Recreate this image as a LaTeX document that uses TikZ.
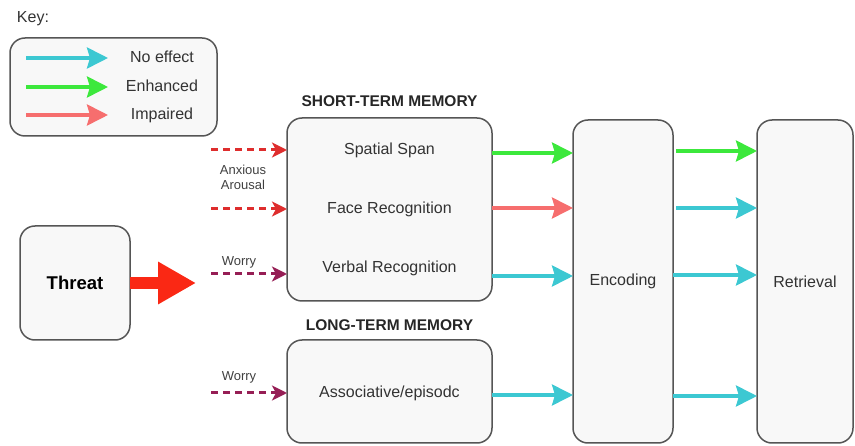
\documentclass[tikz,border=0pt]{standalone}
\usepackage{fontspec}
\setmainfont{Liberation Sans}
\usetikzlibrary{arrows.meta}

\definecolor{diagcolor0000}{RGB}{248,248,248}
\definecolor{diagcolor0001}{RGB}{85,85,85}
\definecolor{diagcolor0002}{RGB}{60,200,210}
\definecolor{diagcolor0003}{RGB}{60,232,60}
\definecolor{diagcolor0004}{RGB}{246,110,110}
\definecolor{diagcolor0005}{RGB}{222,45,45}
\definecolor{diagcolor0006}{RGB}{150,30,85}
\definecolor{diagcolor0007}{RGB}{250,40,20}

\begin{document}
\begin{tikzpicture}[
  yscale = -1,
  dstyle0/.style = {draw=diagcolor0001,fill=diagcolor0000,line width=1.5pt,rounded corners=15pt,inner sep=0pt,outer sep=0pt},
  dstyle1/.style = {line width=3.5pt,-{Stealth[length=21pt,width=21pt,inset=3pt]}},
  dstyle2/.style = {line width=3pt,dash pattern=on 7pt off 5pt,-{Stealth[length=15pt,width=15pt,inset=4pt]}},
  dstyle3/.style = {font=\fontsize{16}{18}\selectfont,text=black!80},
  dstyle4/.style = {font=\fontsize{15.5}{18}\bfseries\selectfont,text=black!85},
  dstyle5/.style = {font=\fontsize{13}{15}\selectfont,text=black!75,align=center},
]
  \useasboundingbox (0pt,0pt) rectangle (855pt,446pt);
  % key
  \node at (33pt,19pt)[dstyle3] (keytitle) {Key:};
  \node at (113.5pt,87pt)[dstyle0,minimum width=207pt,minimum height=98pt] (keybox) {};
  \coordinate (k0s) at (26pt,58pt);  \coordinate (k0e) at (108pt,58pt);
  \coordinate (k1s) at (26pt,87pt);  \coordinate (k1e) at (108pt,87pt);
  \coordinate (k2s) at (26pt,115pt); \coordinate (k2e) at (108pt,115pt);
  \draw[dstyle1,diagcolor0002] (k0s) -- (k0e);
  \draw[dstyle1,diagcolor0003] (k1s) -- (k1e);
  \draw[dstyle1,diagcolor0004] (k2s) -- (k2e);
  \node at (162pt,57pt)[dstyle3] (k0) {No effect};
  \node at (162pt,86pt)[dstyle3] (k1) {Enhanced};
  \node at (162pt,115pt)[dstyle3] (k2) {Impaired};
  % boxes
  \node at (75pt,283pt)[dstyle0,minimum width=110pt,minimum height=114pt,font=\fontsize{18.5}{20}\bfseries\selectfont] (threat) {Threat};
  \node at (389.5pt,209.5pt)[dstyle0,minimum width=205pt,minimum height=183pt] (stm) {};
  \node at (389.5pt,391.5pt)[dstyle0,minimum width=205pt,minimum height=103pt] (ltm) {};
  \node at (623pt,281.5pt)[dstyle0,minimum width=100pt,minimum height=323pt,dstyle3] (enc) {Encoding};
  \node at (805pt,281.5pt)[dstyle0,minimum width=96pt,minimum height=323pt,dstyle3] (ret) {Retrieval};
  \node at (389.5pt,101pt)[dstyle4] (stmtitle) {SHORT-TERM MEMORY};
  \node at (389.5pt,325pt)[dstyle4] (ltmtitle) {LONG-TERM MEMORY};
  \node at (389.5pt,150pt)[dstyle3] (spatial) {Spatial Span};
  \node at (389.5pt,209pt)[dstyle3] (face) {Face Recognition};
  \node at (389.5pt,268pt)[dstyle3] (verbal) {Verbal Recognition};
  \node at (389.5pt,393pt)[dstyle3] (assoc) {Associative/episodc};
  % threat arrow
  \coordinate (tend) at (196pt,283pt);
  \draw[diagcolor0007,line width=12pt,-{Triangle[length=38pt,width=40pt]}] (threat.east) -- (tend);
  % dashed inputs
  \coordinate (d0) at (211pt,150pt);
  \coordinate (d1) at (211pt,209pt);
  \coordinate (d2) at (211pt,274pt);
  \coordinate (d3) at (211pt,393pt);
  \draw[dstyle2,diagcolor0005] (d0) -- (d0 -| stm.west);
  \draw[dstyle2,diagcolor0005] (d1) -- (d1 -| stm.west);
  \draw[dstyle2,diagcolor0006] (d2) -- (d2 -| stm.west);
  \draw[dstyle2,diagcolor0006] (d3) -- (d3 -| ltm.west);
  \node at (243pt,177pt)[dstyle5] (arousal) {Anxious\\Arousal};
  \node at (239pt,262pt)[dstyle5] (worry0) {Worry};
  \node at (239pt,377pt)[dstyle5] (worry1) {Worry};
  % memory to encoding
  \coordinate (s0) at (492pt,153pt);
  \coordinate (s1) at (492pt,208pt);
  \coordinate (s2) at (492pt,276pt);
  \coordinate (s3) at (492pt,395pt);
  \draw[dstyle1,diagcolor0003] (s0 -| stm.east) -- (s0 -| enc.west);
  \draw[dstyle1,diagcolor0004] (s1 -| stm.east) -- (s1 -| enc.west);
  \draw[dstyle1,diagcolor0002] (s2 -| stm.east) -- (s2 -| enc.west);
  \draw[dstyle1,diagcolor0002] (s3 -| ltm.east) -- (s3 -| enc.west);
  % encoding to retrieval
  \coordinate (e0) at (676pt,151pt);
  \coordinate (e1) at (676pt,208pt);
  \coordinate (e2) at (676pt,275pt);
  \coordinate (e3) at (676pt,396pt);
  \draw[dstyle1,diagcolor0003] (e0) -- (e0 -| ret.west);
  \draw[dstyle1,diagcolor0002] (e1) -- (e1 -| ret.west);
  \draw[dstyle1,diagcolor0002] (e2 -| enc.east) -- (e2 -| ret.west);
  \draw[dstyle1,diagcolor0002] (e3 -| enc.east) -- (e3 -| ret.west);
\end{tikzpicture}
\end{document}
